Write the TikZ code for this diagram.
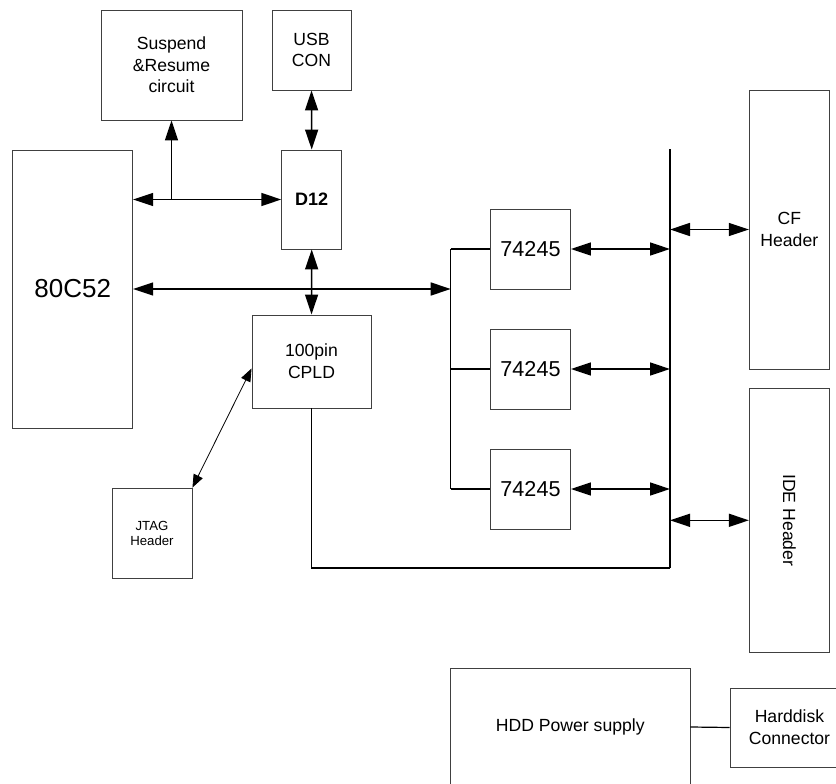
\documentclass[tikz,border=0pt]{standalone}
\usepackage{fontspec}
\setmainfont{Liberation Sans}
\usetikzlibrary{arrows.meta}

\newcommand{\blkfont}{\fontsize{17.6}{21.7}\selectfont}

\begin{document}
\begin{tikzpicture}[x=1pt,y=-1pt,
        blk/.style={draw=black!75,line width=0.9pt,inner sep=0pt,align=center,font=\blkfont},
        bus/.style={line width=1.5pt,{Triangle[length=20pt,width=13pt]}-{Triangle[length=20pt,width=13pt]}},
        wire/.style={line width=1.5pt},
        thinbus/.style={line width=0.8pt,{Triangle[length=13pt,width=10pt]}-{Triangle[length=13pt,width=10pt]}}]
        \useasboundingbox (0,0) rectangle (836,784);
        % blocks
        \node[blk,minimum width=141,minimum height=110] (susp) at (171.5,65) {Suspend\\\&Resume\\circuit};
        \node[blk,minimum width=79,minimum height=80] (usb) at (311.5,50) {USB\\CON};
        \node[blk,minimum width=120,minimum height=278,font=\fontsize{26}{30}\selectfont] (cpu) at (72.7,289) {80C52};
        \node[blk,minimum width=60,minimum height=99,font=\fontsize{18}{22}\selectfont\bfseries] (d12) at (311.7,199.5) {D12};
        \node[blk,minimum width=119,minimum height=93] (cpld) at (311.5,361.5) {100pin\\CPLD};
        \node[blk,minimum width=80,minimum height=90,font=\fontsize{13.2}{15}\selectfont] (jtag) at (152,533) {JTAG\\Header};
        \foreach \i/\y in {1/249,2/369,3/489}
            \node[blk,minimum width=80,minimum height=80,font=\fontsize{21.6}{26}\selectfont] (buf\i) at (530.5,\y) {74245};
        \node[blk,minimum width=80,minimum height=279] (cf) at (789.3,229.5) {CF\\Header};
        \node[blk,minimum width=80,minimum height=264] (ide) at (789.3,520.3) {};
        \node[font=\blkfont,rotate=-90] (idetxt) at (ide.center) {IDE Header};
        \node[blk,minimum width=239.3,minimum height=118] (hdd) at (570.3,727) {HDD Power supply};
        \node[blk,minimum width=119,minimum height=79] (hdcon) at (789.5,727.5) {Harddisk\\Connector};
        % bus lines
        \coordinate (fork) at (450.7,289);
        \coordinate (bustop) at (670,149);
        \coordinate (busbot) at (670,568);
        \draw[wire] (bustop) -- (busbot);
        \draw[bus] (cpu.east |- d12.west) -- (d12.west);
        \draw[wire,-{Triangle[length=20pt,width=13pt]}] (susp.south |- d12.west) -- (susp.south);
        \draw[bus] (usb.south) -- (d12.north);
        \draw[bus] (d12.south) -- (cpld.north);
        \draw[bus] (cpu.east) -- (fork);
        \draw[wire] (buf1.west -| fork) -- (buf3.west -| fork);
        \foreach \i in {1,2,3} {
            \draw[wire] (buf\i.west -| fork) -- (buf\i.west);
            \draw[bus] (buf\i.east) -- (buf\i.east -| bustop);
        }
        \draw[bus] (cf.west -| bustop) -- (cf.west);
        \draw[bus] (ide.west -| bustop) -- (ide.west);
        \draw[wire] (cpld.south) |- (busbot);
        \draw[thinbus] (jtag.north east) -- ([yshift=-7pt]cpld.west);
        \draw[line width=1.2pt] (hdd.east) -- (hdcon.west);
    \end{tikzpicture}
\end{document}
